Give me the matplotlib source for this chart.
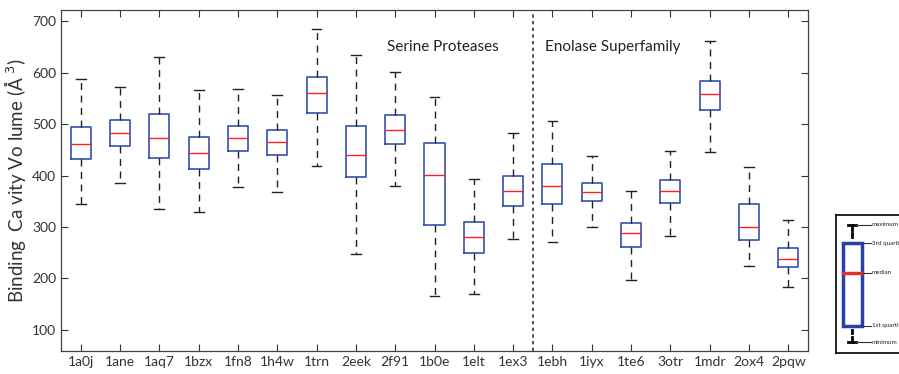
#!/usr/bin/env python3
# box plot of binding cavity volumes, serine proteases vs enolase superfamily
import matplotlib
matplotlib.use('Agg')
import matplotlib.pyplot as plt

plt.rcParams['font.family'] = ['Lato', 'DejaVu Sans']

proteins = ['1a0j', '1ane', '1aq7', '1bzx', '1fn8', '1h4w', '1trn', '2eek', '2f91',
            '1b0e', '1elt', '1ex3', '1ebh', '1iyx', '1te6', '3otr', '1mdr', '2ox4', '2pqw']
# five-number summaries
whislo = [344, 385, 336, 329, 378, 368, 419, 248, 380, 166, 169, 276, 271, 300, 197, 282, 445, 225, 184]
q1     = [433, 457, 434, 413, 447, 440, 522, 397, 461, 304, 250, 341, 345, 350, 262, 347, 528, 275, 223]
med    = [462, 482, 474, 444, 474, 465, 560, 440, 489, 401, 281, 371, 379, 369, 288, 370, 559, 301, 238]
q3     = [494, 508, 519, 475, 497, 489, 592, 496, 518, 463, 309, 399, 422, 386, 308, 391, 583, 345, 259]
whishi = [587, 572, 630, 566, 568, 557, 685, 635, 602, 552, 393, 483, 507, 439, 371, 447, 662, 416, 313]
yticks = [100, 200, 300, 400, 500, 600, 700]

fig = plt.figure(figsize=(8.99, 3.74), dpi=100)
ax = fig.add_axes([61/899, 23.5/374, 747/899, 340.5/374])

stats = []
for i in range(len(proteins)):
    stats.append(dict(label=proteins[i], whislo=whislo[i], q1=q1[i], med=med[i],
                      q3=q3[i], whishi=whishi[i], fliers=[]))

boxcol = '#3550b0'
ax.bxp(stats, positions=range(1, len(proteins) + 1), widths=0.51, showfliers=False,
       boxprops=dict(color=boxcol, linewidth=1.2),
       medianprops=dict(color='#ff2020', linewidth=1.0),
       whiskerprops=dict(color='#222222', linewidth=1.0, linestyle=(0, (5, 4))),
       capprops=dict(color='#222222', linewidth=1.0), capwidths=0.25)

ax.axvline(12.5, color='#333333', linestyle=(0, (2, 2)), linewidth=1.2)
ax.text(8.8, 650, 'Serine Proteases', fontsize=11, color='#222222', va='center')
ax.text(12.8, 650, 'Enolase Superfamily', fontsize=11, color='#222222', va='center')

ax.set_xlim(0.5, 19.5)
ax.set_ylim(60, 722)
ax.set_yticks(yticks)
ax.tick_params(direction='in', top=True, right=True, length=5, labelsize=10,
               colors='#333333', width=0.8)
ax.tick_params(axis='x', pad=4)
for s in ax.spines.values():
    s.set_color('#444444')
    s.set_linewidth(0.9)
ax.set_ylabel('Binding  Ca vity Vo lume (Å $^3$)', fontsize=13.5, color='#333333', labelpad=3)

# small key explaining the box parts
lg = fig.add_axes([836/899, 21/374, 70/899, 138/374])
lg.set_xlim(836, 906)
lg.set_ylim(353, 215)
lg.set_xticks([])
lg.set_yticks([])
for s in lg.spines.values():
    s.set_color('black')
    s.set_linewidth(1.2)
lg.add_patch(plt.Rectangle((843, 243), 19, 83, fill=False, edgecolor='#2a3fa8', linewidth=2.5))
lg.plot([843, 862], [273, 273], color='#e53030', linewidth=2.5)
lg.plot([848, 856], [225, 225], color='black', linewidth=2)
lg.plot([852, 852], [225, 230], color='black', linewidth=2)
lg.plot([852, 852], [233, 237], color='black', linewidth=2)
lg.plot([852, 852], [330, 333], color='black', linewidth=2)
lg.plot([852, 852], [337, 342], color='black', linewidth=2)
lg.plot([848, 856], [342, 342], color='black', linewidth=2)
keys = [(856, 225, 'maximum'), (862, 243, '3rd quartil'), (862, 273, 'median'),
        (862, 326, '1st quartil'), (856, 342, 'minimum')]
for x0, y0, txt in keys:
    lg.plot([x0, 871], [y0, y0], color='#333333', linewidth=0.8)
    lg.text(872, y0, txt, fontsize=4.5, va='center', color='#222222')

plt.savefig('out.png')
